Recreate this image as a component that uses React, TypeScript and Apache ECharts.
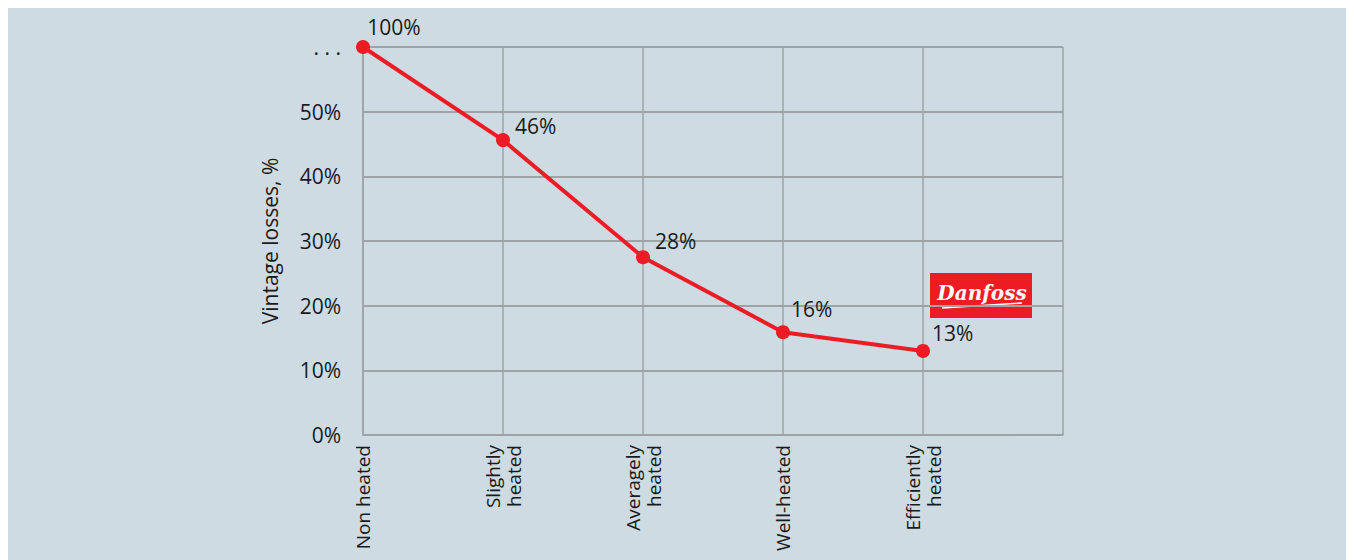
import React, { useEffect, useRef } from "react";
import * as echarts from "echarts";

const categories = ["Non heated", "Slightly\nheated", "Averagely\nheated", "Well-heated", "Efficiently\nheated", ""];
const lossLabels = [100, 46, 28, 16, 13];
const plotValues = [60, 45.6, 27.5, 15.9, 13.0];
const yTicks = [0, 10, 20, 30, 40, 50, 60];
const yMax = 60;
const yAxisName = "Vintage losses, %";

const FONT = "'Open Sans', 'Noto Sans', sans-serif";
const TEXT = "#1a1a1a";
const GRIDC = "#9ea3a8";
const RED = "#ec1c24";

const labelStyles = [
  { position: "top", offset: [31, 2] },
  { position: "right", offset: [0, -14] },
  { position: "right", offset: [0, -16] },
  { position: "right", offset: [-4, -23] },
  { position: "right", offset: [-3, -18] },
];

export default function App() {
  const ref = useRef<HTMLDivElement>(null);
  useEffect(() => {
    document.body.style.overflow = "hidden";
    const chart = echarts.init(ref.current!, null, { renderer: "svg" });
    chart.setOption({
      animation: false,
      backgroundColor: "#cedbe3",
      textStyle: { fontFamily: FONT },
      grid: { left: 355, top: 39, right: 291, bottom: 125, containLabel: false },
      xAxis: {
        type: "category",
        data: categories,
        boundaryGap: false,
        axisLine: { lineStyle: { color: GRIDC, width: 1.5 } },
        axisTick: { show: false },
        axisLabel: {
          rotate: 90,
          interval: 0,
          margin: 10,
          color: TEXT,
          fontSize: 19,
          lineHeight: 21,
          fontFamily: FONT,
        },
        splitLine: { show: true, lineStyle: { color: GRIDC, width: 1.5 } },
      },
      yAxis: {
        type: "value",
        min: 0,
        max: yMax,
        interval: 10,
        name: yAxisName,
        nameLocation: "middle",
        nameGap: 83,
        nameRotate: 90,
        nameTextStyle: { color: TEXT, fontSize: 21, fontFamily: FONT },
        axisLine: { show: true, lineStyle: { color: GRIDC, width: 1.5 } },
        axisTick: { show: false },
        axisLabel: {
          margin: 22,
          color: TEXT,
          fontSize: 21,
          fontFamily: FONT,
          formatter: (v: number) => (v === yMax ? ". . ." : yTicks.includes(v) ? v + "%" : ""),
        },
        splitLine: { show: true, lineStyle: { color: GRIDC, width: 2 } },
      },
      series: [
        {
          type: "line",
          data: plotValues.map((v, i) => ({
            value: v,
            label: { show: true, ...labelStyles[i] },
          })),
          symbol: "circle",
          symbolSize: 14,
          lineStyle: { color: RED, width: 4 },
          itemStyle: { color: RED },
          label: {
            show: true,
            color: TEXT,
            fontSize: 21,
            fontFamily: FONT,
            formatter: (p: any) => lossLabels[p.dataIndex] + "%",
          },
          z: 5,
        },
      ],
      graphic: [
        {
          type: "group",
          left: 922,
          top: 265,
          children: [
            { type: "rect", shape: { x: 0, y: 0, width: 102, height: 45 }, style: { fill: "#ed1c24" } },
            {
              type: "text",
              x: 52,
              y: 20,
              style: {
                text: "Danfoss",
                fill: "#ffffff",
                font: "italic bold 20px 'DejaVu Serif', serif",
                textAlign: "center",
                textVerticalAlign: "middle",
              },
            },
            {
              type: "line",
              shape: { x1: 12, y1: 35, x2: 92, y2: 30 },
              style: { stroke: "#ffffff", lineWidth: 1.5 },
            },
          ],
        },
      ],
    });
    return () => chart.dispose();
  }, []);
  return <div ref={ref} style={{ width: 1346, height: 552 }} />;
}
